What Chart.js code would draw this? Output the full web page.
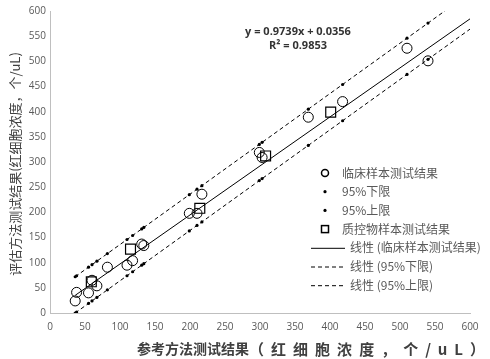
<!DOCTYPE html>
<html>
<head>
<meta charset="utf-8">
<script src="https://cdn.jsdelivr.net/npm/chart.js@4"></script>
<style>
  html, body { margin: 0; padding: 0; background: #fff; }
  #wrap { width: 490px; height: 359px; }
</style>
</head>
<body>
<div id="wrap"><canvas id="grafico" width="490" height="359"></canvas></div>
<script>
// valores (参考方法 x 评估方法)
const clinicoX   = [36, 38, 55, 60, 67, 82, 110, 118, 131, 134, 199, 210, 217, 299, 303, 369, 418, 510, 540];
const clinicoY   = [24, 41, 40, 65, 54, 91, 95, 104, 137, 134, 198, 198, 236, 319, 309, 389, 420, 526, 501];
const inferiorY  = [0, 2, 19, 24, 31, 46, 74, 82, 95, 98, 163, 174, 181, 263, 267, 333, 382, 474, 504];
const superiorY  = [72, 74, 91, 96, 103, 118, 146, 154, 167, 170, 235, 246, 253, 335, 339, 405, 454, 546, 576];
const controleX  = [59, 115, 214, 308, 401];
const controleY  = [62, 127, 208, 312, 399];

const xTicks = [0, 50, 100, 150, 200, 250, 300, 350, 400, 450, 500, 550, 600];
const yTicks = [0, 50, 100, 150, 200, 250, 300, 350, 400, 450, 500, 550, 600];

// equação mostrada no gráfico
const inclinacao = 0.9739;
const intercepto = 0.0356;
const r2 = 0.9853;
const fimTendencia = 600;   // previsão até o fim do eixo

const nomes = ['临床样本测试结果', '95%下限', '95%上限', '质控物样本测试结果',
               '线性 (临床样本测试结果)', '线性 (95%下限)', '线性 (95%上限)'];

const TICK_COLOR = '#595959';
const AXIS_COLOR = '#bfbfbf';
const INK = '#000';

const pares = (xs, ys) => xs.map((x, i) => ({ x: x, y: ys[i] }));

// mínimos quadrados, como a linha de tendência do Excel
function ajuste(xs, ys) {
    const n = xs.length;
    const mx = xs.reduce((a, b) => a + b, 0) / n;
    const my = ys.reduce((a, b) => a + b, 0) / n;
    let sxy = 0, sxx = 0;
    xs.forEach((x, i) => { sxy += (x - mx) * (ys[i] - my); sxx += (x - mx) * (x - mx); });
    const m = sxy / sxx;
    return { m: m, b: my - m * mx };
}
function linha(m, b, xs) {
    const x0 = Math.min(...xs);
    return [{ x: x0, y: m * x0 + b }, { x: fimTendencia, y: m * fimTendencia + b }];
}

const fitInf = ajuste(clinicoX, inferiorY);
const fitSup = ajuste(clinicoX, superiorY);

const datasets = [
    { label: nomes[0], data: pares(clinicoX, clinicoY), pointStyle: 'circle', pointRadius: 5,
      pointBorderColor: INK, pointBorderWidth: 1, pointBackgroundColor: 'rgba(0,0,0,0)', order: 1 },
    { label: nomes[1], data: pares(clinicoX, inferiorY), pointStyle: 'circle', pointRadius: 1.6,
      pointBorderWidth: 0, pointBackgroundColor: INK, order: 2 },
    { label: nomes[2], data: pares(clinicoX, superiorY), pointStyle: 'circle', pointRadius: 1.6,
      pointBorderWidth: 0, pointBackgroundColor: INK, order: 3 },
    { label: nomes[3], data: pares(controleX, controleY), pointStyle: 'rect', pointRadius: 7,
      pointBorderColor: INK, pointBorderWidth: 1.2, pointBackgroundColor: 'rgba(0,0,0,0)', order: 0 },
    { label: nomes[4], data: linha(inclinacao, intercepto, clinicoX), showLine: true, pointRadius: 0,
      borderColor: INK, borderWidth: 1, order: 5 },
    { label: nomes[5], data: linha(fitInf.m, fitInf.b, clinicoX), showLine: true, pointRadius: 0,
      borderColor: INK, borderWidth: 1, borderDash: [4, 3], order: 6 },
    { label: nomes[6], data: linha(fitSup.m, fitSup.b, clinicoX), showLine: true, pointRadius: 0,
      borderColor: INK, borderWidth: 1, borderDash: [4, 3], order: 7 }
];

// legenda, equação e títulos dos eixos desenhados à mão (estilo Excel)
const extras = {
    id: 'extras',
    afterDraw(chart) {
        const ctx = chart.ctx;
        ctx.save();

        // legenda
        ctx.font = '12px "Noto Sans CJK SC"';
        ctx.fillStyle = TICK_COLOR;
        ctx.textBaseline = 'middle';
        chart.data.datasets.forEach((ds, i) => {
            const y = 173 + i * 18.7;
            ctx.strokeStyle = INK;
            ctx.fillStyle = INK;
            if (ds.showLine) {
                ctx.lineWidth = 1;
                ctx.setLineDash(ds.borderDash || []);
                ctx.beginPath();
                ctx.moveTo(311, y + 0.5);
                ctx.lineTo(345, y + 0.5);
                ctx.stroke();
                ctx.setLineDash([]);
                ctx.fillStyle = TICK_COLOR;
                ctx.fillText(ds.label, 350, y);
            } else {
                if (ds.pointStyle === 'rect') {
                    ctx.lineWidth = 1.5;
                    ctx.strokeRect(321.5, y - 3.5, 7, 7);
                } else if (ds.pointRadius > 3) {
                    ctx.lineWidth = 1.5;
                    ctx.beginPath();
                    ctx.arc(325, y, 3.5, 0, Math.PI * 2);
                    ctx.stroke();
                } else {
                    ctx.beginPath();
                    ctx.arc(325, y, 1.6, 0, Math.PI * 2);
                    ctx.fill();
                }
                ctx.fillStyle = TICK_COLOR;
                ctx.fillText(ds.label, 342, y);
            }
        });

        // equação da reta
        ctx.fillStyle = '#333';
        ctx.textAlign = 'center';
        ctx.font = 'bold 11px "Open Sans"';
        const sinal = intercepto >= 0 ? ' + ' : ' - ';
        ctx.fillText('y = ' + inclinacao.toFixed(4) + 'x' + sinal + Math.abs(intercepto).toFixed(4), 298, 32);
        ctx.fillText('R² = ' + r2.toFixed(4), 298, 46);

        // título do eixo x: primeira parte normal, parêntese um pouco maior
        const tx1 = '参考方法测试结果';
        const tx2 = '（红细胞浓度，个/uL）';
        ctx.font = 'bold 14px "Noto Sans CJK SC"';
        ctx.fillStyle = '#404040';
        ctx.textAlign = 'left';
        ctx.fillText(tx1, 137, 349);
        const x2 = 137 + ctx.measureText(tx1).width;
        ctx.font = 'bold 15px "Noto Sans CJK SC"';
        const w2 = ctx.measureText(tx2).width;
        ctx.letterSpacing = Math.max(0, (485 - x2 - w2) / (tx2.length - 1)) + 'px';
        ctx.fillText(tx2, x2, 349);
        ctx.letterSpacing = '0px';

        // título do eixo y
        const ty = '评估方法测试结果(红细胞浓度，个/uL)';
        ctx.font = '13px "Noto Sans CJK SC"';
        ctx.translate(15, 164);
        ctx.rotate(-Math.PI / 2);
        ctx.textAlign = 'center';
        ctx.fillText(ty, 0, 0);

        ctx.restore();
    }
};

const eixo = (ticks, pad) => ({
    type: 'linear',
    min: 0,
    max: 600,
    afterBuildTicks: s => { s.ticks = ticks.map(v => ({ value: v })); },
    grid: { display: false, drawTicks: false },
    border: { display: true, color: AXIS_COLOR, width: 1 },
    ticks: { color: TICK_COLOR, padding: pad, font: { size: 10, family: 'Open Sans' } }
});

const xScale = eixo(xTicks, 8);
xScale.afterFit = s => { s.height = 46; };
const yScale = eixo(yTicks, 4);
yScale.afterFit = s => { s.width = 50; };

new Chart(document.getElementById('grafico').getContext('2d'), {
    type: 'scatter',
    data: { datasets: datasets },
    options: {
        responsive: false,
        animation: false,
        layout: { padding: { top: 11, right: 20, left: 0, bottom: 0 } },
        plugins: { legend: { display: false }, tooltip: { enabled: false } },
        scales: { x: xScale, y: yScale }
    },
    plugins: [extras]
});
</script>
</body>
</html>
